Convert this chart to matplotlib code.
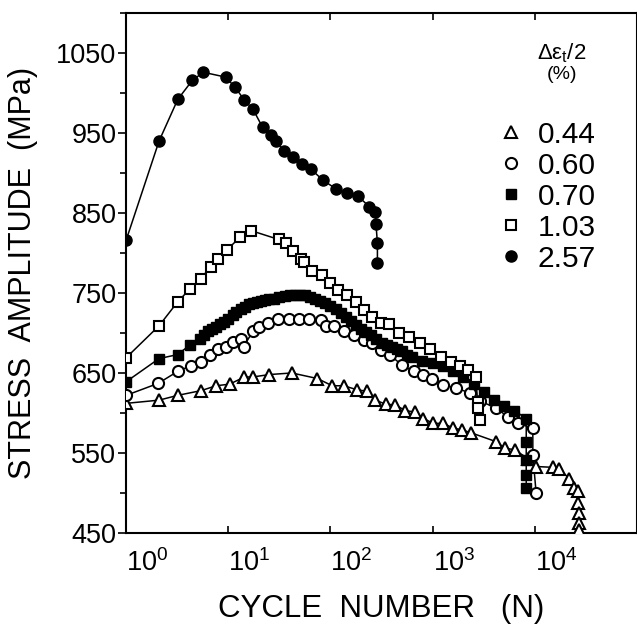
import matplotlib
matplotlib.use("Agg")
import matplotlib.pyplot as plt
from matplotlib.lines import Line2D
from matplotlib.ticker import FixedLocator, MultipleLocator, LogFormatterSciNotation

plt.rcParams["font.family"] = ["Liberation Sans", "DejaVu Sans"]
plt.rcParams["mathtext.default"] = "regular"

# strain amplitude 0.44 %
n_044 = [1.0, 2.1, 3.2, 5.45, 7.6, 10.3, 14.4, 17.4, 25.2, 41.9, 74.6, 104, 135, 182, 229,
         275, 347, 431, 540, 676, 813, 1016, 1270, 1590, 1920, 2400, 4200, 5070, 6340, 8550,
         10300, 15000, 17400, 21700, 24300, 26200, 26200, 27000, 27000, 27000]
s_044 = [612, 616, 622, 628, 634, 636, 645, 645, 648, 650, 643, 634, 634, 629, 627,
         616, 611, 610, 603, 601, 593, 587, 587, 581, 579, 575, 564, 556, 554, 543,
         533, 532, 530, 518, 506, 502, 487, 475, 462, 454]

# strain amplitude 0.60 %
n_060 = [1.0, 2.06, 3.2, 4.3, 5.4, 6.6, 7.9, 9.55, 11.1, 13.4, 14.1, 17.4, 20, 24.3, 30.4,
         39.5, 49.3, 62, 80, 90, 108, 135, 169, 212, 257, 309, 385, 500, 650, 813, 980,
         1270, 1710, 2310, 2900, 4200, 5450, 6840, 9560, 9560, 10300]
s_060 = [622, 637, 652, 659, 664, 672, 680, 682, 689, 693, 683, 702, 708, 713, 717,
         717, 717, 717, 716, 709, 709, 702, 697, 691, 688, 679, 672, 660, 652, 647, 643,
         635, 631, 625, 615, 606, 595, 587, 581, 547, 500]

# strain amplitude 0.70 %
n_070 = [1.0, 2.1, 3.2, 4.2, 5.25, 5.75, 6.31, 6.92, 7.59, 8.32, 9.12, 10, 11, 12, 13.2,
         14.5, 15.8, 17.4, 19.1, 20.9, 22.9, 25.1, 28.2, 31.6, 35.5, 39.8, 44.7, 50.1, 56.2,
         63.1, 70.8, 79.4, 89.1, 100, 112, 126, 141, 158, 178, 200, 224, 251, 282, 316, 355,
         398, 447, 501, 562, 631, 794, 1000, 1259, 1585, 1995, 2512, 3162, 3981, 5012, 6310,
         8240, 8240, 8240, 8240, 8240]
s_070 = [639, 668, 673, 685, 693, 697, 702, 705, 708, 711, 714, 718, 722, 726, 730,
         733, 736, 738, 739, 740, 741, 742, 743, 745, 746, 747, 748, 748, 747,
         745, 743, 740, 737, 734, 730, 725, 720, 715, 710, 705, 701, 697, 692, 688, 685,
         682, 680, 677, 673, 670, 665, 662, 659, 653, 645, 636, 626, 616, 609, 603,
         593, 564, 541, 522, 506]

# strain amplitude 1.03 %
n_103 = [1.0, 2.1, 3.2, 4.2, 5.4, 6.7, 7.9, 9.7, 13.1, 16.7, 31, 36.6, 42.5, 51, 55, 66.5,
         83, 100, 119, 144, 176, 215, 256, 309, 377, 464, 581, 754, 944, 1205, 1510, 1850,
         2235, 2650, 2750, 2800, 2890]
s_103 = [669, 709, 739, 755, 768, 783, 793, 804, 820, 828, 817, 812, 802, 793, 789, 778,
         772, 762, 754, 748, 739, 729, 720, 712, 711, 700, 695, 687, 680, 670, 664, 659,
         654, 645, 614, 606, 591]

# strain amplitude 2.57 %
n_257 = [1.0, 2.1, 3.2, 4.45, 5.7, 9.4, 11.7, 14.4, 17.4, 21.7, 26.2, 29.3, 35.2, 43.1, 52.5,
         64.2, 84.5, 114, 146, 186, 240, 275, 279, 288, 288]
s_257 = [816, 940, 992, 1016, 1026, 1020, 1007, 991, 980, 957, 948, 940, 927, 920, 911,
         905, 891, 880, 875, 871, 858, 851, 836, 812, 787]

labels = ["0.44", "0.60", "0.70", "1.03", "2.57"]
series = [(n_044, s_044), (n_060, s_060), (n_070, s_070), (n_103, s_103), (n_257, s_257)]
styles = [
    dict(marker="^", ms=8.5, mfc="white", mec="black", mew=1.5),
    dict(marker="o", ms=8, mfc="white", mec="black", mew=1.5),
    dict(marker="s", ms=7, mfc="black", mec="black", mew=1.0),
    dict(marker="s", ms=7, mfc="white", mec="black", mew=1.5),
    dict(marker="o", ms=8, mfc="black", mec="black", mew=1.0),
]

fig = plt.figure(figsize=(6.37, 6.24), dpi=100)
ax = fig.add_axes([0.198, 0.146, 0.802, 0.833])

for (n, s), st in zip(series, styles):
    ax.plot(n, s, color="black", lw=1.1, zorder=2)
    ax.plot(n, s, ls="none", zorder=3, **st)

ax.set_xscale("log")
ax.set_xlim(1, 1e5)
ax.set_ylim(450, 1100)

ax.xaxis.set_major_locator(FixedLocator([1, 10, 100, 1000, 10000]))
ax.xaxis.set_major_formatter(LogFormatterSciNotation())
ax.xaxis.set_minor_locator(FixedLocator([]))
ax.yaxis.set_major_locator(FixedLocator([450, 550, 650, 750, 850, 950, 1050]))
ax.yaxis.set_minor_locator(MultipleLocator(50))

for sp in ax.spines.values():
    sp.set_linewidth(1.5)

ax.tick_params(axis="y", which="both", left=True, right=True, direction="out",
               labelsize=19.5, pad=1, width=1.2)
ax.tick_params(axis="y", which="major", length=6)
ax.tick_params(axis="y", which="minor", length=4)
ax.tick_params(axis="x", which="both", bottom=True, top=True, direction="in",
               labelsize=19.5, pad=12, length=5, width=1.2)
for lab in ax.get_xticklabels():
    lab.set_horizontalalignment("left")

ax.set_xlabel("CYCLE  NUMBER   (N)", fontsize=22.5, labelpad=12)
ax.set_ylabel("STRESS  AMPLITUDE  (MPa)", fontsize=22, labelpad=13)

handles = [Line2D([], [], ls="none", **st) for st in styles]
ax.legend(handles, labels, loc="upper right", bbox_to_anchor=(0.96, 0.833),
          frameon=False, fontsize=21.5, handlelength=0.8, handletextpad=0.5,
          labelspacing=0.1, borderpad=0.2)
ax.text(0.853, 0.923, "Δε$_t$/2", transform=ax.transAxes, ha="center", va="center",
        fontsize=16)
ax.text(0.853, 0.881, "(%)", transform=ax.transAxes, ha="center", va="center",
        fontsize=14)

fig.savefig("out.png", dpi=100)
